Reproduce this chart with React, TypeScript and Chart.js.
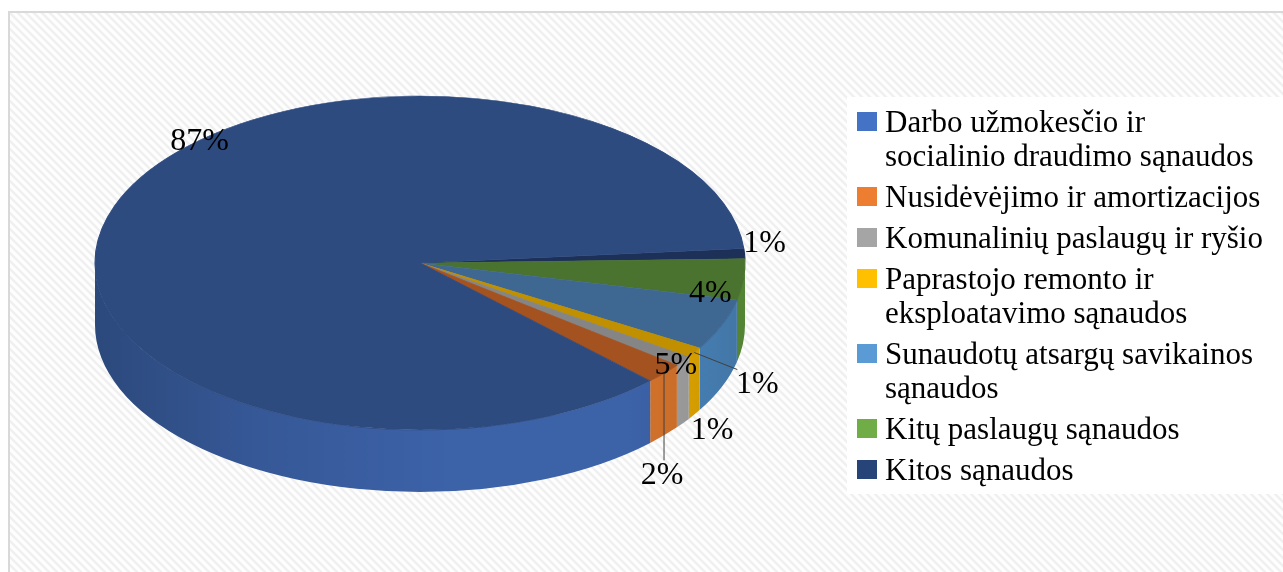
import { useEffect, useRef } from "react";
import { Chart, registerables } from "chart.js";

Chart.register(...registerables);

// ---------- data ----------
const categories = [
  "Darbo užmokesčio ir socialinio draudimo sąnaudos",
  "Nusidėvėjimo ir amortizacijos",
  "Komunalinių paslaugų ir ryšio",
  "Paprastojo remonto ir eksploatavimo sąnaudos",
  "Sunaudotų atsargų savikainos sąnaudos",
  "Kitų paslaugų sąnaudos",
  "Kitos sąnaudos",
];
const legendLines = [
  ["Darbo užmokesčio ir", "socialinio draudimo sąnaudos"],
  ["Nusidėvėjimo ir amortizacijos"],
  ["Komunalinių paslaugų ir ryšio"],
  ["Paprastojo remonto ir", "eksploatavimo sąnaudos"],
  ["Sunaudotų atsargų savikainos", "sąnaudos"],
  ["Kitų paslaugų sąnaudos"],
  ["Kitos sąnaudos"],
];
const values = [87, 2, 1, 1, 5, 4, 1];

// ---------- styles ----------
const legendColors = ["#4472C4", "#ED7D31", "#A5A5A5", "#FFC000", "#5B9BD5", "#70AD47", "#264478"];
const topColors = ["#2E4B80", "#A4521F", "#858585", "#C09000", "#3E6891", "#4A7330", "#1D3158"];
const sideColors = ["#3C62A8", "#D6742C", "#A3A3A3", "#E6AA00", "#4C88C0", "#5F9A3C", "#24416F"];
// label placement relative to the slice's rim point (px), and leader flags
const labelOffsets = [[85, -64], [-2, 102], [29, 69], [63, 32], [-46, 41], [-33, 14], [20, -10]];
const labelLeaders = [false, true, false, true, false, false, false];

const W = 1275;
const H = 561;
const CX = 412;
const CY = 252;
const RX = 325;
const RY = 167;
const DEPTH = 62;
const FONT = '"Liberation Serif", "Times New Roman", serif';

function shade(hex: string, f: number) {
  const n = parseInt(hex.slice(1), 16);
  const r = Math.min(255, Math.round(((n >> 16) & 255) * f));
  const g = Math.min(255, Math.round(((n >> 8) & 255) * f));
  const b = Math.min(255, Math.round((n & 255) * f));
  return `rgb(${r},${g},${b})`;
}

export default function App() {
  const ref = useRef<HTMLCanvasElement>(null);

  useEffect(() => {
    const canvas = ref.current!;
    const order = values.map((_, i) => values.length - 1 - i);

    const T = 8;
    const tile = document.createElement("canvas");
    tile.width = T;
    tile.height = T;
    const tctx = tile.getContext("2d")!;
    tctx.fillStyle = "#FEFEFE";
    tctx.fillRect(0, 0, T, T);
    tctx.strokeStyle = "#F0F0F0";
    tctx.lineWidth = 2.5;
    for (const o of [-T, 0, T]) {
      tctx.beginPath();
      tctx.moveTo(o - 1, -1);
      tctx.lineTo(o + T + 1, T + 1);
      tctx.stroke();
    }

    const pie3d = {
      id: "pie3d",
      beforeDraw(chart: any) {
        const ctx = chart.ctx as CanvasRenderingContext2D;
        ctx.save();
        ctx.fillStyle = ctx.createPattern(tile, "repeat")!;
        ctx.fillRect(0, 0, W, H);
        ctx.strokeStyle = "#D9D9D9";
        ctx.lineWidth = 2;
        ctx.strokeRect(1, 1, W + 10, H + 10);
        ctx.fillStyle = "#FFFFFF";
        ctx.fillRect(839, 86, W - 839, 397);
        ctx.restore();
      },
      beforeDatasetsDraw(chart: any) {
        const ctx = chart.ctx as CanvasRenderingContext2D;
        const arcs = chart.getDatasetMeta(0).data;
        const p0 = arcs[0].getProps(["x", "y", "outerRadius"], true);
        // side walls
        arcs.forEach((arc: any, j: number) => {
          const i = order[j];
          const { startAngle: s, endAngle: e } = arc.getProps(["startAngle", "endAngle"], true);
          const base = sideColors[i];
          const g = ctx.createLinearGradient(CX - RX, 0, CX + RX, 0);
          g.addColorStop(0, shade(base, 0.74));
          g.addColorStop(0.25, shade(base, 0.9));
          g.addColorStop(0.55, shade(base, 1.0));
          g.addColorStop(0.82, shade(base, 1.0));
          g.addColorStop(1, shade(base, 0.86));
          for (const k of [-1, 0, 1]) {
            const lo = Math.max(s, 2 * Math.PI * k);
            const hi = Math.min(e, 2 * Math.PI * k + Math.PI);
            if (hi <= lo) continue;
            ctx.beginPath();
            ctx.ellipse(CX, CY, RX, RY, 0, lo, hi, false);
            ctx.ellipse(CX, CY + DEPTH, RX, RY, 0, hi, lo, true);
            ctx.closePath();
            ctx.fillStyle = g;
            ctx.fill();
          }
        });
        // top faces drawn by Chart.js under an elliptical transform
        ctx.save();
        ctx.translate(CX, CY);
        ctx.scale(RX / p0.outerRadius, RY / p0.outerRadius);
        ctx.translate(-p0.x, -p0.y);
      },
      afterDatasetsDraw(chart: any) {
        const ctx = chart.ctx as CanvasRenderingContext2D;
        ctx.restore();
        const arcs = chart.getDatasetMeta(0).data;
        ctx.save();
        ctx.font = `32px ${FONT}`;
        ctx.textAlign = "center";
        ctx.textBaseline = "middle";
        arcs.forEach((arc: any, j: number) => {
          const i = order[j];
          const { startAngle: s, endAngle: e } = arc.getProps(["startAngle", "endAngle"], true);
          const m = (s + e) / 2;
          const rx = CX + RX * Math.cos(m);
          const ry = CY + RY * Math.sin(m);
          const lx = rx + labelOffsets[i][0];
          const ly = ry + labelOffsets[i][1];
          if (labelLeaders[i]) {
            ctx.strokeStyle = "#404040";
            ctx.lineWidth = 1;
            ctx.beginPath();
            ctx.moveTo(rx, ry);
            const tx = Math.abs(lx - rx) < 10 ? rx : lx - 20;
            ctx.lineTo(tx, ly - 15);
            ctx.stroke();
          }
          ctx.fillStyle = "#000";
          ctx.fillText(`${values[i]}%`, lx, ly);
        });
        ctx.restore();
      },
      afterDraw(chart: any) {
        const ctx = chart.ctx as CanvasRenderingContext2D;
        ctx.save();
        ctx.font = `31px ${FONT}`;
        ctx.textAlign = "left";
        ctx.textBaseline = "alphabetic";
        let y = 121;
        legendLines.forEach((lines, i) => {
          ctx.fillStyle = legendColors[i];
          ctx.fillRect(849, y - 20, 20, 19);
          ctx.fillStyle = "#000";
          lines.forEach((t, k) => {
            ctx.fillText(t, 877, y + k * 34);
          });
          y += (lines.length - 1) * 34 + 41;
        });
        ctx.restore();
      },
    };

    const chart = new Chart(canvas, {
      type: "pie",
      data: {
        labels: order.map((i) => categories[i]),
        datasets: [
          {
            data: order.map((i) => values[i]),
            backgroundColor: order.map((i) => topColors[i]),
            borderColor: order.map((i) => topColors[i]),
            borderWidth: 1,
            clip: false,
          } as any,
        ],
      },
      options: {
        animation: false,
        responsive: false,
        maintainAspectRatio: false,
        rotation: 85,
        layout: { padding: { left: 0, right: 425, top: 0, bottom: 0 } },
        plugins: { legend: { display: false }, tooltip: { enabled: false } },
        events: [],
      },
      plugins: [pie3d],
    });
    return () => chart.destroy();
  }, []);

  return (
    <div style={{ position: "fixed", left: 8, top: 11, width: W, height: H }}>
      <canvas ref={ref} width={W} height={H} style={{ display: "block", width: W, height: H }} />
    </div>
  );
}
